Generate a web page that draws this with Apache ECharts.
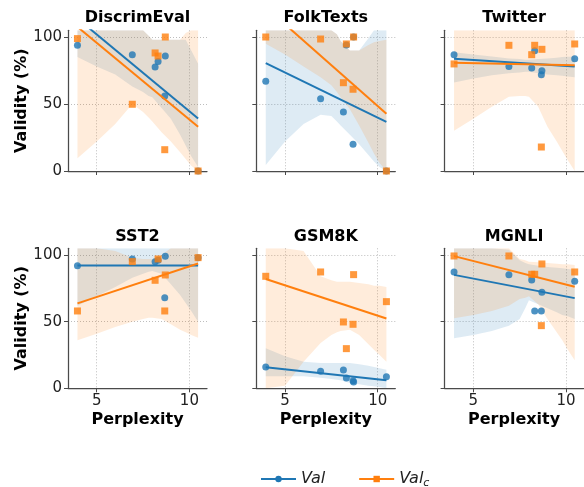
<!DOCTYPE html>
<html><head><meta charset="utf-8">
<script src="https://cdn.jsdelivr.net/npm/echarts@6/dist/echarts.min.js"></script>
<style>html,body{margin:0;padding:0;background:#fff}#c{width:584px;height:487px}</style>
</head><body><div id="c"></div>
<script>
// ---- data: scatter points ----
const perplexity = [3.96, 6.92, 8.15, 8.31, 8.67, 8.70, 10.47];
const panelTitles = ['DiscrimEval', 'FolkTexts', 'Twitter', 'SST2', 'GSM8K', 'MGNLI'];
const valDiscrimEval  = [93.8, 86.8, 77.6, 81.8, 56.0, 85.8, 0];
const valcDiscrimEval = [98.8, 49.8, 88.1, 85.8, 15.9, 100, 0];
const valFolkTexts    = [66.9, 54.0, 44.0, 94.0, 19.9, 100, 0];
const valcFolkTexts   = [100, 98.5, 65.9, 94.8, 61.0, 100, 0];
const valTwitter      = [86.8, 77.9, 76.9, 89.8, 71.9, 74.9, 83.8];
const valcTwitter     = [79.9, 93.8, 86.8, 93.8, 17.9, 90.8, 94.8];
const valSST2         = [92, 97, 95, 96, 68, 99, 98];
const valcSST2        = [58, 95, 81, 97, 58, 85, 98];
const valGSM8K        = [16, 12.75, 13.75, 7.75, 5.75, 4.75, 8.75];
const valcGSM8K       = [84, 87.25, 49.75, 29.75, 48, 85.25, 65];
const valMGNLI        = [87.25, 85.25, 81.25, 58, 58, 72, 80.25];
const valcMGNLI       = [99.25, 99.25, 85.5, 85.5, 47, 93.25, 87.25];

// ---- data: 95% confidence bands ----
const bandX = [3.96, 5, 6, 6.92, 7.5, 7.8, 8, 8.5, 9, 9.5, 9.8, 10.1, 10.47];
const bandLoValDiscrimEval  = [85, 78, 72, 63, 59, 56, 55, 47, 39, 27, 19, 11, 3];
const bandHiValDiscrimEval  = [105, 105, 105, 105, 105, 101, 98, 98, 98, 98, 98, 90, 80];
const bandLoValcDiscrimEval = [9.5, 22, 35, 50, 44, 40, 37, 29, 22, 14, 9, 4, 0];
const bandHiValcDiscrimEval = [105, 105, 105, 105, 105, 101, 98, 98, 98, 98, 103, 105, 105];
const bandLoValFolkTexts    = [4.5, 22, 35, 42, 41, 37, 34, 27, 20, 12, 7, 3, 0];
const bandHiValFolkTexts    = [105, 105, 105, 105, 105, 102, 97, 90, 90, 99, 105, 105, 105];
const bandLoValcFolkTexts   = [95, 87, 78, 70, 64, 59, 55, 46, 34, 21, 13, 6, 0];
const bandHiValcFolkTexts   = [105, 105, 105, 105, 105, 102, 97, 90, 90, 94, 96, 97, 98];
const bandLoValTwitter      = [66, 69, 71.5, 73, 73.5, 74, 74, 73, 72, 71.5, 71, 70.5, 70];
const bandHiValTwitter      = [88.6, 87, 85.5, 84, 83.5, 83, 83, 83.5, 84, 84.5, 85, 85.2, 85.3];
const bandLoValcTwitter     = [30, 39, 48, 55.5, 56, 56, 55.5, 48, 33, 22, 15, 8, 0];
const bandHiValcTwitter     = [105, 105, 105, 105, 105, 105, 105, 105, 105, 105, 105, 105, 105];
const bandLoValSST2         = [62, 69, 76, 83, 86, 87.5, 88, 86, 78, 70, 64, 58, 50];
const bandHiValSST2         = [105, 105, 105, 105, 105, 105, 105, 105, 105, 105, 105, 105, 105];
const bandLoValcSST2        = [36, 41, 46, 50, 52, 53, 53, 52, 48, 44, 42, 40, 38];
const bandHiValcSST2        = [105, 105, 103, 98, 97, 97, 97, 100, 105, 105, 105, 105, 105];
const bandLoValGSM8K        = [9, 9, 9, 8, 7, 6.5, 6, 4, 3, 2, 1.5, 1, 0];
const bandHiValGSM8K        = [30, 24, 20, 19, 19, 19, 19, 19, 18, 17, 16, 15, 14];
const bandLoValcGSM8K       = [0, 2, 20, 34, 40, 42, 43, 44, 40, 33, 29, 25, 20];
const bandHiValcGSM8K       = [105, 105, 103, 84, 81, 80, 80, 80, 79, 78, 77, 77, 76];
const bandLoValMGNLI        = [37.5, 40, 43, 47, 52, 60, 66, 63, 60, 57, 55, 54, 52];
const bandHiValMGNLI        = [105, 105, 105, 104, 96, 94, 93, 92, 91, 90.5, 90, 89.5, 89];
const bandLoValcMGNLI       = [52.5, 55, 58, 62, 67, 68, 69, 63, 52, 42, 36, 29, 21];
const bandHiValcMGNLI       = [105, 105, 105, 105, 97, 96, 95, 94.5, 94, 93.5, 93, 93, 92.5];

const xTicks = [5, 10];
const yTicks = [0, 50, 100];
const seriesNames = ['Val', 'Val_c'];

const valSets  = [valDiscrimEval, valFolkTexts, valTwitter, valSST2, valGSM8K, valMGNLI];
const valcSets = [valcDiscrimEval, valcFolkTexts, valcTwitter, valcSST2, valcGSM8K, valcMGNLI];
const bandSets = [
  [[bandLoValDiscrimEval, bandHiValDiscrimEval], [bandLoValcDiscrimEval, bandHiValcDiscrimEval]],
  [[bandLoValFolkTexts, bandHiValFolkTexts], [bandLoValcFolkTexts, bandHiValcFolkTexts]],
  [[bandLoValTwitter, bandHiValTwitter], [bandLoValcTwitter, bandHiValcTwitter]],
  [[bandLoValSST2, bandHiValSST2], [bandLoValcSST2, bandHiValcSST2]],
  [[bandLoValGSM8K, bandHiValGSM8K], [bandLoValcGSM8K, bandHiValcGSM8K]],
  [[bandLoValMGNLI, bandHiValMGNLI], [bandLoValcMGNLI, bandHiValcMGNLI]]
];

// ---- style / layout ----
const FONT = 'DejaVu Sans';
const BLUE = '#1f77b4', ORANGE = '#ff7f0e';
const colLeft = [68, 256.3, 444.6];
const colW = 139;
const rowTop = [30.3, 248.3];
const rowH = [140.7, 140];
const XMIN = 3.45, XMAX = 10.95, YMIN = 0, YMAX = 105;
const AX = '#4a4a4a';

// least-squares regression line over the data range
function fitLine(xs, ys) {
  const n = xs.length;
  const mx = xs.reduce((a, b) => a + b, 0) / n;
  const my = ys.reduce((a, b) => a + b, 0) / n;
  let sxx = 0, sxy = 0;
  for (let i = 0; i < n; i++) { sxx += (xs[i] - mx) ** 2; sxy += (xs[i] - mx) * (ys[i] - my); }
  const b = sxy / sxx, a = my - b * mx;
  const lo = Math.min(...xs), hi = Math.max(...xs);
  return [[lo, a + b * lo], [hi, a + b * hi]];
}
const clampY = v => Math.min(YMAX, Math.max(YMIN, v));

const grid = [], xAxis = [], yAxis = [], series = [], title = [];

for (let p = 0; p < 6; p++) {
  const r = Math.floor(p / 3), c = p % 3;
  grid.push({left: colLeft[c], top: rowTop[r], width: colW, height: rowH[r], containLabel: false});
  title.push({
    text: panelTitles[p], left: colLeft[c] + colW / 2, top: r === 0 ? 10 : 229, textAlign: 'center', padding: 0,
    textStyle: {fontFamily: FONT, fontSize: 16, fontWeight: 'bold', color: '#000'}
  });
  xAxis.push({
    gridIndex: p, type: 'value', min: XMIN, max: XMAX,
    name: r === 1 ? 'Perplexity' : '', nameLocation: 'middle', nameGap: 24,
    nameTextStyle: {fontFamily: FONT, fontSize: 16, fontWeight: 'bold', color: '#000'},
    axisLine: {show: true, onZero: false, lineStyle: {color: AX, width: 1.25}},
    axisTick: {show: true, length: 4, customValues: xTicks, lineStyle: {color: AX, width: 1}},
    axisLabel: {show: r === 1, customValues: xTicks, margin: 5, fontFamily: FONT, fontSize: 15, color: '#222'},
    splitLine: {show: true, lineStyle: {type: [1, 2], color: '#bdbdbd', width: 1}}
  });
  yAxis.push({
    gridIndex: p, type: 'value', min: YMIN, max: YMAX, interval: 50,
    name: c === 0 ? 'Validity (%)' : '', nameLocation: 'middle', nameGap: 38,
    nameTextStyle: {fontFamily: FONT, fontSize: 16, fontWeight: 'bold', color: '#000'},
    axisLine: {show: true, onZero: false, lineStyle: {color: AX, width: 1.25}},
    axisTick: {show: true, length: 4, customValues: yTicks, lineStyle: {color: AX, width: 1}},
    axisLabel: {show: c === 0, customValues: yTicks, margin: 6, fontFamily: FONT, fontSize: 15, color: '#222'},
    splitLine: {show: true, lineStyle: {type: [1, 2], color: '#bdbdbd', width: 1}}
  });

  const sets = [valSets[p], valcSets[p]];
  const colors = [BLUE, ORANGE];
  const symbols = ['circle', 'rect'];
  // bands
  bandSets[p].forEach((bd, k) => {
    const lo = bd[0], hi = bd[1];
    series.push({
      type: 'custom', xAxisIndex: p, yAxisIndex: p, silent: true, z: 1, clip: true,
      data: [[bandX[0], 0]],
      renderItem: (params, api) => {
        const pts = [];
        for (let i = 0; i < bandX.length; i++) pts.push(api.coord([bandX[i], clampY(hi[i])]));
        for (let i = bandX.length - 1; i >= 0; i--) pts.push(api.coord([bandX[i], clampY(lo[i])]));
        return {type: 'polygon', shape: {points: pts}, style: {fill: colors[k], opacity: 0.15}};
      }
    });
  });
  // scatter + regression lines
  sets.forEach((ys, k) => {
    series.push({
      type: 'scatter', xAxisIndex: p, yAxisIndex: p, silent: true, z: 3 + k * 2,
      symbol: symbols[k], symbolSize: 7,
      itemStyle: {color: colors[k], opacity: 0.8},
      data: perplexity.map((x, i) => [x, ys[i]])
    });
    series.push({
      type: 'line', xAxisIndex: p, yAxisIndex: p, silent: true, z: 4 + k * 2,
      showSymbol: false, symbol: 'none', lineStyle: {color: colors[k], width: 2},
      data: fitLine(perplexity, ys)
    });
  });
}

// legend proxies
series.unshift(
  {type: 'line', name: seriesNames[0], xAxisIndex: 0, yAxisIndex: 0, data: [], symbol: 'circle', symbolSize: 7,
   itemStyle: {color: BLUE}, lineStyle: {color: BLUE, width: 1.5}},
  {type: 'line', name: seriesNames[1], xAxisIndex: 0, yAxisIndex: 0, data: [], symbol: 'rect', symbolSize: 7,
   itemStyle: {color: ORANGE}, lineStyle: {color: ORANGE, width: 1.5}}
);

const chart = echarts.init(document.getElementById('c'), null, {renderer: 'canvas'});
chart.setOption({
  animation: false,
  backgroundColor: '#fff',
  title, grid, xAxis, yAxis, series,
  legend: {
    data: seriesNames, left: 255, top: 466, itemWidth: 35, itemHeight: 8, itemGap: 33,
    selectedMode: false,
    formatter: n => n === 'Val' ? '{i|Val}' : '{i|Val}{s|c}',
    textStyle: {
      fontFamily: FONT, fontSize: 16, color: '#222',
      rich: {
        i: {fontFamily: FONT, fontSize: 16, fontStyle: 'italic', color: '#222'},
        s: {fontFamily: FONT, fontSize: 11, fontStyle: 'italic', color: '#222', padding: [8, 0, 0, 0]}
      }
    }
  }
});
</script></body></html>
